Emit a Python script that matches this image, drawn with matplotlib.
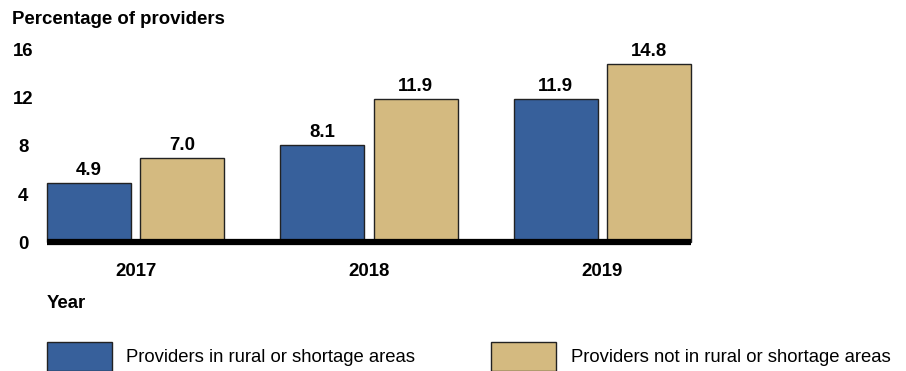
import matplotlib
matplotlib.use("Agg")
import numpy as np
import matplotlib.pyplot as plt

plt.rcParams["font.family"] = ["Liberation Sans", "DejaVu Sans"]

years = ["2017", "2018", "2019"]
rural = [4.9, 8.1, 11.9]
not_rural = [7.0, 11.9, 14.8]
series_names = ["Providers in rural or shortage areas",
                "Providers not in rural or shortage areas"]
y_ticks = [0, 4, 8, 12, 16]

BLUE = "#37609b"
TAN = "#d4ba80"
FS = 13.4

fig = plt.figure(figsize=(9.06, 3.71), dpi=100)
ax = fig.add_axes([47 / 906, 1 - 242 / 371, 644 / 906, 192 / 371])

x = np.arange(len(years))
w = 0.36
off = 0.2
b1 = ax.bar(x - off, rural, w, color=BLUE, edgecolor="#222222", linewidth=1,
            label=series_names[0], zorder=2, clip_on=False)
b2 = ax.bar(x + off, not_rural, w, color=TAN, edgecolor="#222222", linewidth=1,
            label=series_names[1], zorder=2, clip_on=False)

for bars, vals in ((b1, rural), (b2, not_rural)):
    for rect, v in zip(bars, vals):
        ax.annotate(f"{v:.1f}", (rect.get_x() + rect.get_width() / 2, v),
                    xytext=(0, 3), textcoords="offset points",
                    ha="center", va="bottom", fontsize=FS, fontweight="bold")

ax.axhline(0, color="black", lw=4.5, zorder=3, clip_on=False,
           solid_capstyle="butt")
ax.set_xlim(-0.38, 2.38)
ax.set_ylim(0, 16)
ax.set_yticks(y_ticks)
ax.set_yticklabels([str(t) for t in y_ticks], fontsize=FS, fontweight="bold", ha="center")
ax.set_xticks(x)
ax.set_xticklabels(years, fontsize=FS, fontweight="bold")
ax.tick_params(axis="y", length=0, pad=17)
ax.tick_params(axis="x", length=0, pad=15)
for s in ax.spines.values():
    s.set_visible(False)

fig.text(12 / 906, 1 - 19 / 371, "Percentage of providers", fontsize=FS,
         fontweight="bold", va="center", ha="left")
fig.text(47 / 906, 1 - 303 / 371, "Year", fontsize=FS, fontweight="bold",
         va="center", ha="left")

fig.legend(handles=[b1, b2], labels=series_names, loc="upper left",
           bbox_to_anchor=(47 / 906, 1 - 342 / 371), ncol=2, frameon=False,
           fontsize=13.3, borderpad=0, borderaxespad=0, handlelength=3.5,
           handleheight=2.0, handletextpad=0.8, columnspacing=4.1)

fig.savefig("out.png", dpi=100)
